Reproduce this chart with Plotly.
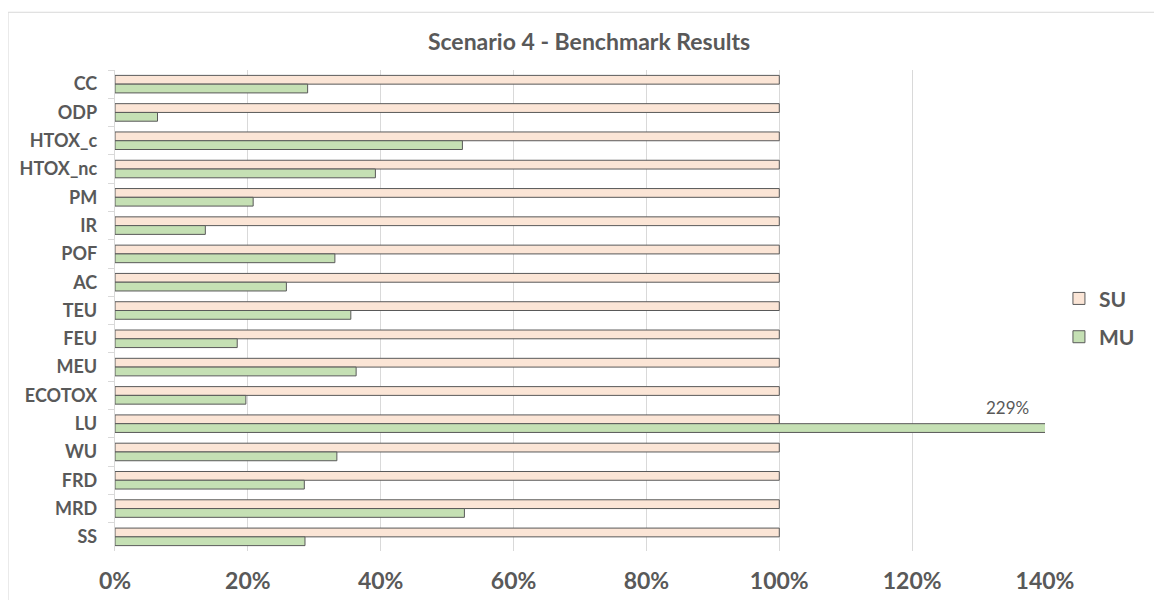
import plotly.graph_objects as go

categories = ["CC", "ODP", "HTOX_c", "HTOX_nc", "PM", "IR", "POF", "AC", "TEU",
              "FEU", "MEU", "ECOTOX", "LU", "WU", "FRD", "MRD", "SS"]
su_values = [1.0] * len(categories)
mu_values = [0.29, 0.064, 0.523, 0.392, 0.208, 0.136, 0.331, 0.258, 0.355,
             0.184, 0.363, 0.197, 2.29, 0.334, 0.285, 0.526, 0.286]
x_ticks = [0, 0.2, 0.4, 0.6, 0.8, 1.0, 1.2, 1.4]
x_labels = [f"<b>{v:.0%}</b>" for v in x_ticks]
x_max = 1.4

GREY = "#595959"
FONT = "Lato"

fig = go.Figure()
fig.add_trace(go.Bar(
    y=categories, x=su_values, name="<b>SU</b>", orientation="h",
    marker=dict(color="#FBE5D6", line=dict(color=GREY, width=1)),
    legendgroup="su",
))
fig.add_trace(go.Bar(
    y=categories, x=mu_values, name="<b>MU</b>", orientation="h",
    marker=dict(color="#C5E0B4", line=dict(color=GREY, width=1)),
    legendgroup="mu",
))

# data label for the bar that runs past the axis
for cat, val in zip(categories, mu_values):
    if val > x_max:
        fig.add_annotation(
            x=x_max, y=cat, text=f"{val:.0%}", showarrow=False,
            xanchor="right", yanchor="bottom", xshift=-14, yshift=4,
            font=dict(family=FONT, size=17, color=GREY),
        )

fig.add_shape(
    type="rect", xref="paper", yref="paper",
    x0=-0.115, x1=1.2, y0=-0.2, y1=1.12,
    line=dict(color="#D9D9D9", width=1), layer="below",
)

# page body has an 8px margin, so the margins are offset by it
fig.update_layout(
    width=1162, height=600,
    margin=dict(l=107, r=125, t=62, b=57),
    paper_bgcolor="white", plot_bgcolor="white",
    barmode="group", bargap=0.38, bargroupgap=0.0,
    title=dict(
        text="<b>Scenario 4 - Benchmark Results</b>",
        x=0.5, xanchor="center", y=0.943, yanchor="middle",
        font=dict(family=FONT, size=23, color=GREY),
    ),
    legend=dict(
        x=1.015, y=0.567, xanchor="left", yanchor="top",
        font=dict(family=FONT, size=21, color=GREY),
        traceorder="grouped", tracegroupgap=8,
    ),
    xaxis=dict(
        range=[0, x_max], tickvals=x_ticks, ticktext=x_labels,
        showgrid=True, gridcolor="#D9D9D9", gridwidth=1,
        zeroline=False, showline=False, ticks="",
        tickfont=dict(family=FONT, size=23, color=GREY),
        ticklabelstandoff=14, automargin=False,
    ),
    yaxis=dict(
        autorange="reversed", showgrid=False, automargin=False,
        showline=True, linecolor="#D9D9D9", linewidth=1,
        ticks="outside", tickson="boundaries", ticklen=6, tickcolor="#D9D9D9",
        tickprefix="<b>", ticksuffix="</b>  ", ticklabelstandoff=4,
        tickfont=dict(family=FONT, size=18, color=GREY),
    ),
)

fig.write_html("out.html")
